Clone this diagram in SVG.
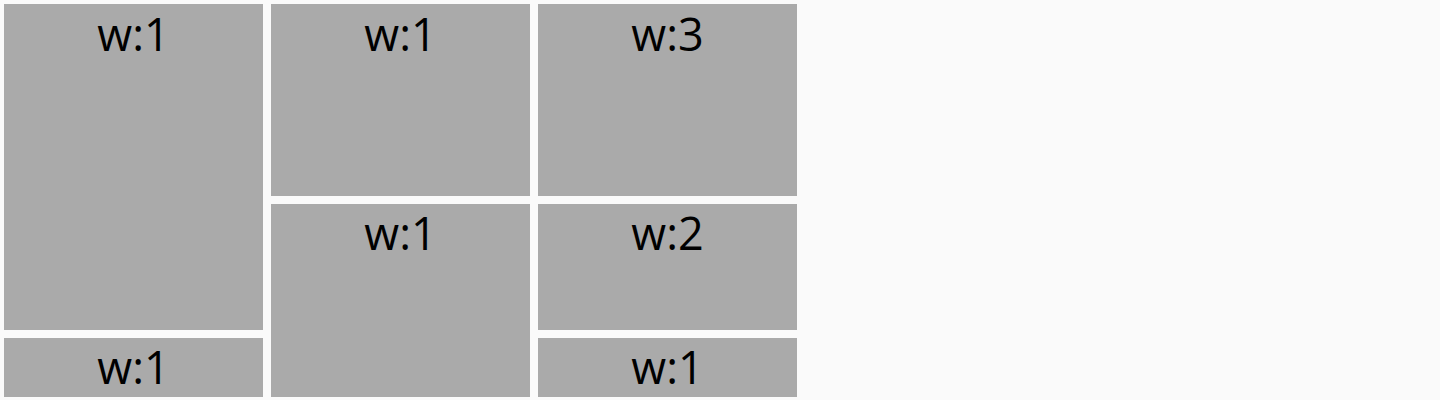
<svg xmlns="http://www.w3.org/2000/svg" width="1440" height="400" viewBox="0 0 1440 400">
<style>
.b{fill:#aaaaaa}
.t{font-family:"Open Sans","Noto Sans",sans-serif;font-size:45px;fill:#000;text-anchor:middle}
</style>
<rect width="1440" height="400" fill="#fafafa"/>
<g id="n1"><rect class="b" x="4" y="4" width="259" height="326"/><text class="t" x="133.5" y="51">w:1</text></g>
<g id="n2"><rect class="b" x="4" y="338" width="259" height="59"/><text class="t" x="133.5" y="384">w:1</text></g>
<g id="n3"><rect class="b" x="271" y="4" width="259" height="192"/><text class="t" x="400.5" y="51">w:1</text></g>
<g id="n4"><rect class="b" x="271" y="204" width="259" height="193"/><text class="t" x="400.5" y="250">w:1</text></g>
<g id="n5"><rect class="b" x="538" y="4" width="259" height="192"/><text class="t" x="667.5" y="51">w:3</text></g>
<g id="n6"><rect class="b" x="538" y="204" width="259" height="126"/><text class="t" x="667.5" y="250">w:2</text></g>
<g id="n7"><rect class="b" x="538" y="338" width="259" height="59"/><text class="t" x="667.5" y="384">w:1</text></g>
<g id="connectors"/>
</svg>
